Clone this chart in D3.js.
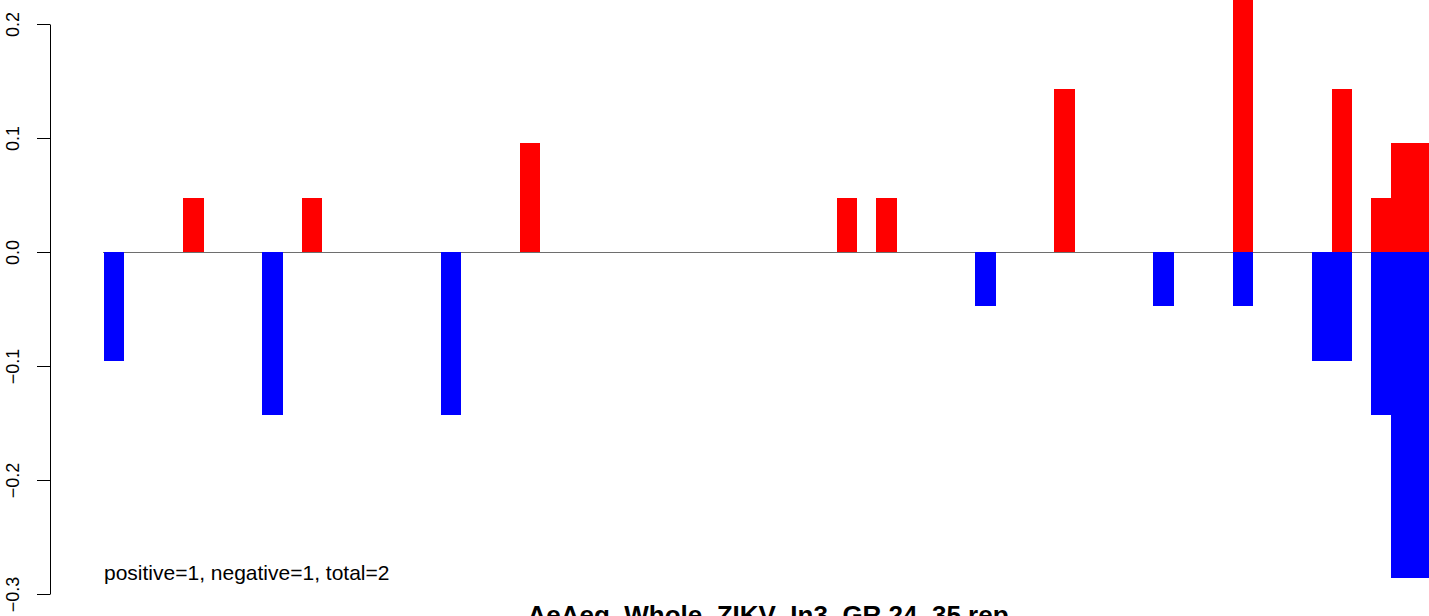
<!DOCTYPE html>
<html>
<head>
<meta charset="utf-8">
<script src="https://cdn.jsdelivr.net/npm/d3@7"></script>
<style>
  body { margin: 0; background: #fff; overflow: hidden; }
  text { font-family: "Liberation Sans", Arial, Helvetica, sans-serif; }
</style>
</head>
<body>
<div class="container"></div>
<script>
const size = {
    width: 1429,
    height: 616
};

// bins along the x axis (only the visible ones)
const bins = d3.range(67);

// positive (red) bars: bin index and value
const posBins   = [4, 10, 21, 37, 39, 48, 57, 62, 64, 65, 66];
const posValues = [0.0476, 0.0476, 0.0952, 0.0476, 0.0476, 0.1429, 0.2381, 0.1429, 0.0476, 0.0952, 0.0952];

// negative (blue) bars
const negBins   = [0, 8, 17, 44, 53, 57, 61, 62, 64, 65, 66];
const negValues = [-0.0952, -0.1429, -0.1429, -0.0476, -0.0476, -0.0476, -0.0952, -0.0952, -0.1429, -0.2857, -0.2857];

const yTicks = [-0.3, -0.2, -0.1, 0.0, 0.1, 0.2];

const noteText = "positive=1, negative=1, total=2";
const titleText = "AeAeg_Whole_ZIKV_In3_GR.24_35.rep";

const svg = d3.select(".container")
              .append("svg")
              .attr("width", size.width)
              .attr("height", size.height);

const x = d3.scaleBand()
            .domain(bins)
            .range([104, 104 + bins.length * 19.8])
            .padding(0);

const y = d3.scaleLinear()
            .domain([-0.3, 0.2])
            .range([594, 24]);

const pos = posBins.map((b, i) => ({bin: b, v: posValues[i]}));
const neg = negBins.map((b, i) => ({bin: b, v: negValues[i]}));

// zero line (under the bars)
svg.append("line")
   .attr("x1", 103)
   .attr("x2", size.width)
   .attr("y1", y(0) + 0.5)
   .attr("y2", y(0) + 0.5)
   .attr("stroke", "#6e6e6e")
   .attr("stroke-width", 1)
   .attr("shape-rendering", "crispEdges");

svg.append("g")
   .attr("shape-rendering", "crispEdges")
   .selectAll("rect")
   .data(pos)
   .enter()
     .append("rect")
     .attr("x", d => x(d.bin))
     .attr("width", x.bandwidth() + 0.5)
     .attr("y", d => y(d.v))
     .attr("height", d => y(0) - y(d.v))
     .attr("fill", "#ff0000");

svg.append("g")
   .attr("shape-rendering", "crispEdges")
   .selectAll("rect")
   .data(neg)
   .enter()
     .append("rect")
     .attr("x", d => x(d.bin))
     .attr("width", x.bandwidth() + 0.5)
     .attr("y", y(0))
     .attr("height", d => y(d.v) - y(0))
     .attr("fill", "#0000ff");

// y axis, R style with rotated labels
const axis = svg.append("g")
   .attr("transform", "translate(50,0)")
   .call(d3.axisLeft(y)
           .tickValues(yTicks)
           .tickFormat(d3.format(".1f"))
           .tickSize(13)
           .tickSizeOuter(0));

axis.select(".domain").attr("stroke", "#000");
axis.selectAll(".tick line").attr("stroke", "#000");
axis.selectAll(".tick text")
    .attr("transform", "rotate(-90)")
    .attr("x", 0)
    .attr("y", -31.5)
    .attr("dy", null)
    .attr("text-anchor", "middle")
    .attr("fill", "#000")
    .style("font-size", "18px")
    .style("font-family", "'Liberation Sans', Arial, sans-serif");

svg.append("text")
   .attr("x", 104)
   .attr("y", 580)
   .style("font-size", "21px")
   .text(noteText);

svg.append("text")
   .attr("x", 768)
   .attr("y", 624)
   .attr("text-anchor", "middle")
   .style("font-size", "26px")
   .style("font-weight", "bold")
   .text(titleText);
</script>
</body>
</html>
